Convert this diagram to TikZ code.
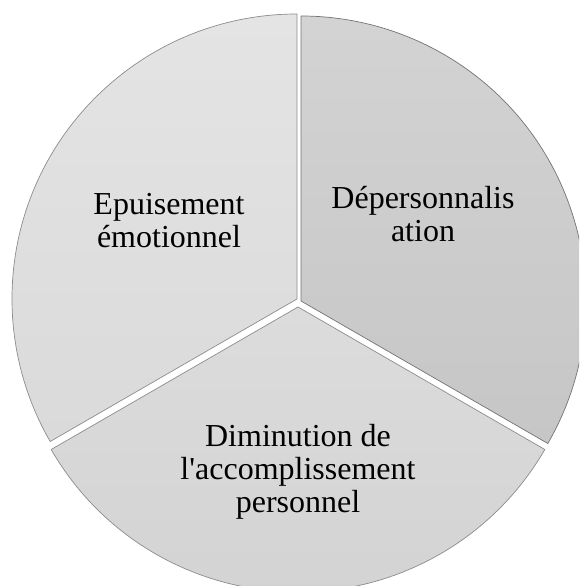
\documentclass[tikz,border=0pt]{standalone}
\usepackage{fontspec}
\setmainfont{Liberation Serif}
\usepackage{xcolor}
\definecolor{pale-grey}{HTML}{E4E4E4}
\definecolor{pale-grey-low}{HTML}{DADADA}
\definecolor{mid-grey}{HTML}{D3D3D3}
\definecolor{mid-grey-low}{HTML}{C6C6C6}
\definecolor{bot-grey}{HTML}{DCDCDC}
\definecolor{bot-grey-low}{HTML}{D2D2D2}
\usetikzlibrary{positioning}
\tikzset{slice/.style = {draw=black!45, line width=.7pt, line join=round}}
\tikzset{label/.style = {align=center, text centered, inner sep=0pt, font=\fontsize{32}{33}\selectfont}}

\begin{document}
\begin{tikzpicture}[x=1pt, y=1pt]
\useasboundingbox (0,0) rectangle (579,586);
\clip (0,0) rectangle (579,586);

\coordinate (c0) at (297,287);
\coordinate (c1) at (301,285);
\coordinate (c2) at (298,279);

% slices
\shadedraw[slice, top color=pale-grey, bottom color=pale-grey-low]
  (c0) -- ++(90:285) arc[start angle=90, end angle=210, radius=285] -- cycle;
\shadedraw[slice, draw=black!55, top color=mid-grey, bottom color=mid-grey-low]
  (c1) -- ++(-30:285) arc[start angle=-30, end angle=90, radius=285] -- cycle;
\shadedraw[slice, top color=bot-grey, bottom color=bot-grey-low]
  (c2) -- ++(210:285) arc[start angle=210, end angle=330, radius=285] -- cycle;

\node[label] (p0) at (169,365) {Epuisement\\émotionnel};
\node[label] (p1) at (423,372) {Dépersonnalis\\ation};
\node[label] (p2) at (298,114) {Diminution de\\l\textquotesingle accomplissement\\personnel};

\end{tikzpicture}
\end{document}
